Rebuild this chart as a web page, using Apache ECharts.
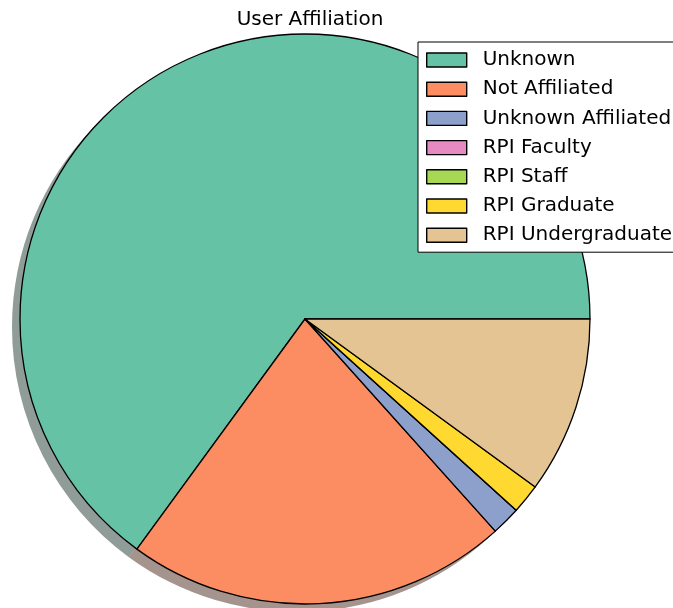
<!DOCTYPE html>
<html>
<head>
<meta charset="utf-8">
<script src="https://cdn.jsdelivr.net/npm/echarts@6/dist/echarts.min.js"></script>
<style>
  html, body { margin: 0; padding: 0; background: #fff; }
  #chart { width: 673px; height: 608px; }
</style>
</head>
<body>
<div id="chart"></div>
<script>
// share of users per affiliation (percent)
const categories = ['Unknown', 'Not Affiliated', 'Unknown Affiliated', 'RPI Faculty', 'RPI Staff', 'RPI Graduate', 'RPI Undergraduate']
const shares = [64.96, 21.68, 1.65, 0, 0, 1.68, 10.03]
const colors = ['#66c2a5', '#fc8d62', '#8da0cb', '#e78ac3', '#a6d854', '#ffd92f', '#e5c494']

// matplotlib-style shadow: 0.3 * face colour, half transparent
function darken(hex) {
  const n = parseInt(hex.slice(1), 16)
  const r = Math.round(((n >> 16) & 255) * 0.3)
  const g = Math.round(((n >> 8) & 255) * 0.3)
  const b = Math.round((n & 255) * 0.3)
  return 'rgba(' + r + ',' + g + ',' + b + ',0.5)'
}

const font = 'DejaVu Sans'
const cx = 305
const cy = 319
const radius = 285

const chart = echarts.init(document.getElementById('chart'))
chart.setOption({
  animation: false,
  title: {
    text: 'User Affiliation',
    left: cx,
    top: 4,
    textAlign: 'center',
    textStyle: { fontFamily: font, fontSize: 20, fontWeight: 'normal', color: '#000', lineHeight: 22 }
  },
  legend: {
    orient: 'vertical',
    left: 418,
    top: 42,
    data: categories,
    icon: 'rect',
    itemWidth: 40,
    itemHeight: 14,
    itemGap: 9.2,
    padding: [8, 12, 7, 8],
    backgroundColor: '#fff',
    borderColor: '#000',
    borderWidth: 1,
    itemStyle: { borderColor: '#000', borderWidth: 1.4 },
    textStyle: { fontFamily: font, fontSize: 20, lineHeight: 20, color: '#000', padding: [0, 0, 0, 11] },
    z: 10
  },
  series: [
    {
      name: 'affiliation',
      type: 'pie',
      center: [cx, cy],
      radius: radius,
      startAngle: 0,
      clockwise: false,
      z: 3,
      label: { show: false },
      labelLine: { show: false },
      emphasis: { disabled: true },
      itemStyle: { borderColor: '#000', borderWidth: 1.3 },
      data: categories.map((c, i) => ({ name: c, value: shares[i], itemStyle: { color: colors[i] } }))
    },
    {
      name: 'shadow',
      type: 'pie',
      center: [cx - 8, cy + 8],
      radius: radius,
      startAngle: 0,
      clockwise: false,
      silent: true,
      z: 1,
      label: { show: false },
      labelLine: { show: false },
      itemStyle: { borderWidth: 0 },
      data: categories.map((c, i) => ({ name: c, value: shares[i], itemStyle: { color: darken(colors[i]) } }))
    }
  ]
})
</script>
</body>
</html>
